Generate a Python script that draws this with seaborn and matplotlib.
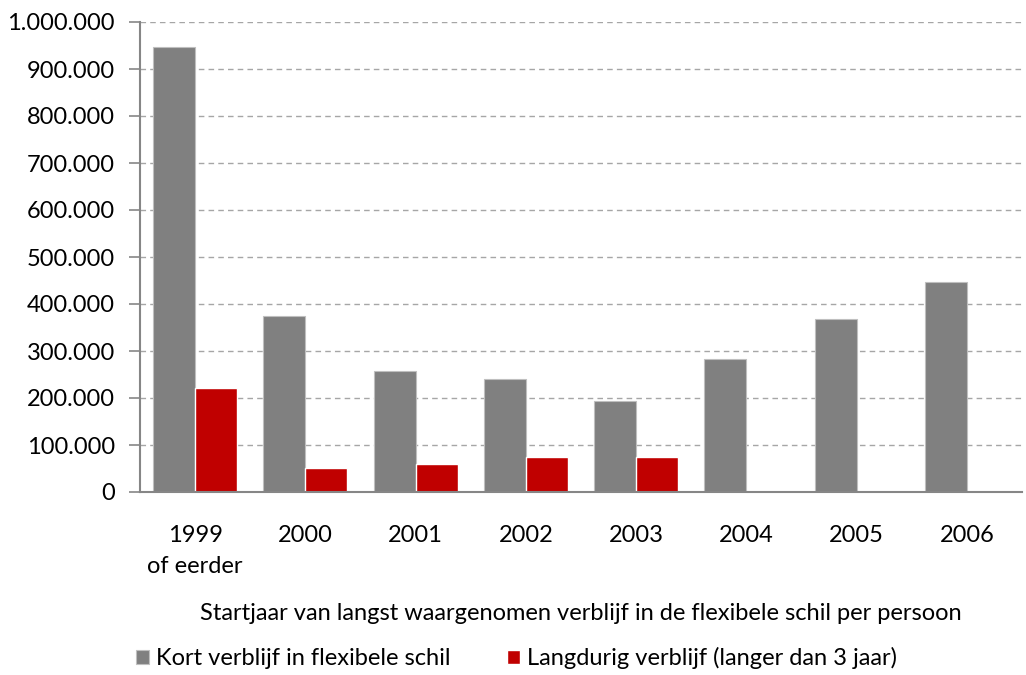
import numpy as np
import pandas as pd
import matplotlib
matplotlib.use("Agg")
import matplotlib.pyplot as plt
import matplotlib.ticker as mticker
import seaborn as sns

# data
jaren = ["1999\nof eerder", "2000", "2001", "2002", "2003", "2004", "2005", "2006"]
kort = [946000, 375500, 258500, 240000, 194000, 284000, 369000, 447000]
langdurig = [222000, 51000, 60000, 74500, 74500, 0, 0, 0]
reeks_kort = "Kort verblijf in flexibele schil"
reeks_lang = "Langdurig verblijf (langer dan 3 jaar)"

df = pd.DataFrame({
    "Jaar": jaren * 2,
    "Aantal": kort + langdurig,
    "Reeks": [reeks_kort] * len(jaren) + [reeks_lang] * len(jaren),
})

sns.set_style("white")
plt.rcParams["font.family"] = ["Lato", "DejaVu Sans"]

text_col = "#000000"
axis_col = "#868686"
palette = {reeks_kort: "#808080", reeks_lang: "#C00000"}
fs = 17

fig = plt.figure(figsize=(10.26, 6.75), dpi=100)
ax = fig.add_axes([140 / 1026, 1 - 492 / 675, (1022 - 140) / 1026, (492 - 22) / 675])

sns.barplot(data=df, x="Jaar", y="Aantal", hue="Reeks", palette=palette,
            width=0.76, gap=0, saturation=1, ax=ax, legend=True)

for p in ax.patches:
    if p.get_facecolor()[:3] == matplotlib.colors.to_rgb("#808080"):
        p.set_edgecolor("#BFBFBF")
        p.set_linewidth(0.8)

ax.set_xlim(-0.5, len(jaren) - 0.5)
ax.set_ylim(0, 1000000)
ax.yaxis.set_major_locator(mticker.MultipleLocator(100000))
ax.yaxis.set_major_formatter(mticker.FuncFormatter(lambda v, _: f"{int(v):,}".replace(",", ".")))

# grid
ax.yaxis.grid(True, linestyle=(0, (4, 3)), color="#A6A6A6", linewidth=1)
ax.set_axisbelow(True)

# spines
for s in ["top", "right"]:
    ax.spines[s].set_visible(False)
for s in ["left", "bottom"]:
    ax.spines[s].set_color(axis_col)
    ax.spines[s].set_linewidth(1.5)

# ticks: y outward, x tick marks between categories
ax.tick_params(axis="y", direction="out", length=8, width=1.2, color=axis_col,
               labelsize=fs, labelcolor=text_col, pad=10, left=True)
ax.set_xticks(np.arange(-0.5, len(jaren), 1.0), minor=True)
ax.tick_params(axis="x", which="minor", direction="out", length=7, width=1.2, color=axis_col)
ax.tick_params(axis="x", which="major", length=0, labelsize=fs, labelcolor=text_col, pad=24)
for lbl in ax.get_xticklabels():
    lbl.set_linespacing(1.55)

ax.set_ylabel("")
ax.set_xlabel("Startjaar van langst waargenomen verblijf in de flexibele schil per persoon",
              fontsize=fs, color=text_col, labelpad=19)

leg = ax.legend(loc="upper left", bbox_to_anchor=(136 / 1026, 1 - 647 / 675),
                bbox_transform=fig.transFigure, ncol=2, frameon=False, fontsize=fs,
                handlelength=0.55, handleheight=0.55, handletextpad=0.3,
                columnspacing=2.4, borderaxespad=0, borderpad=0)
for t in leg.get_texts():
    t.set_color(text_col)

fig.savefig("out.png", dpi=100)
